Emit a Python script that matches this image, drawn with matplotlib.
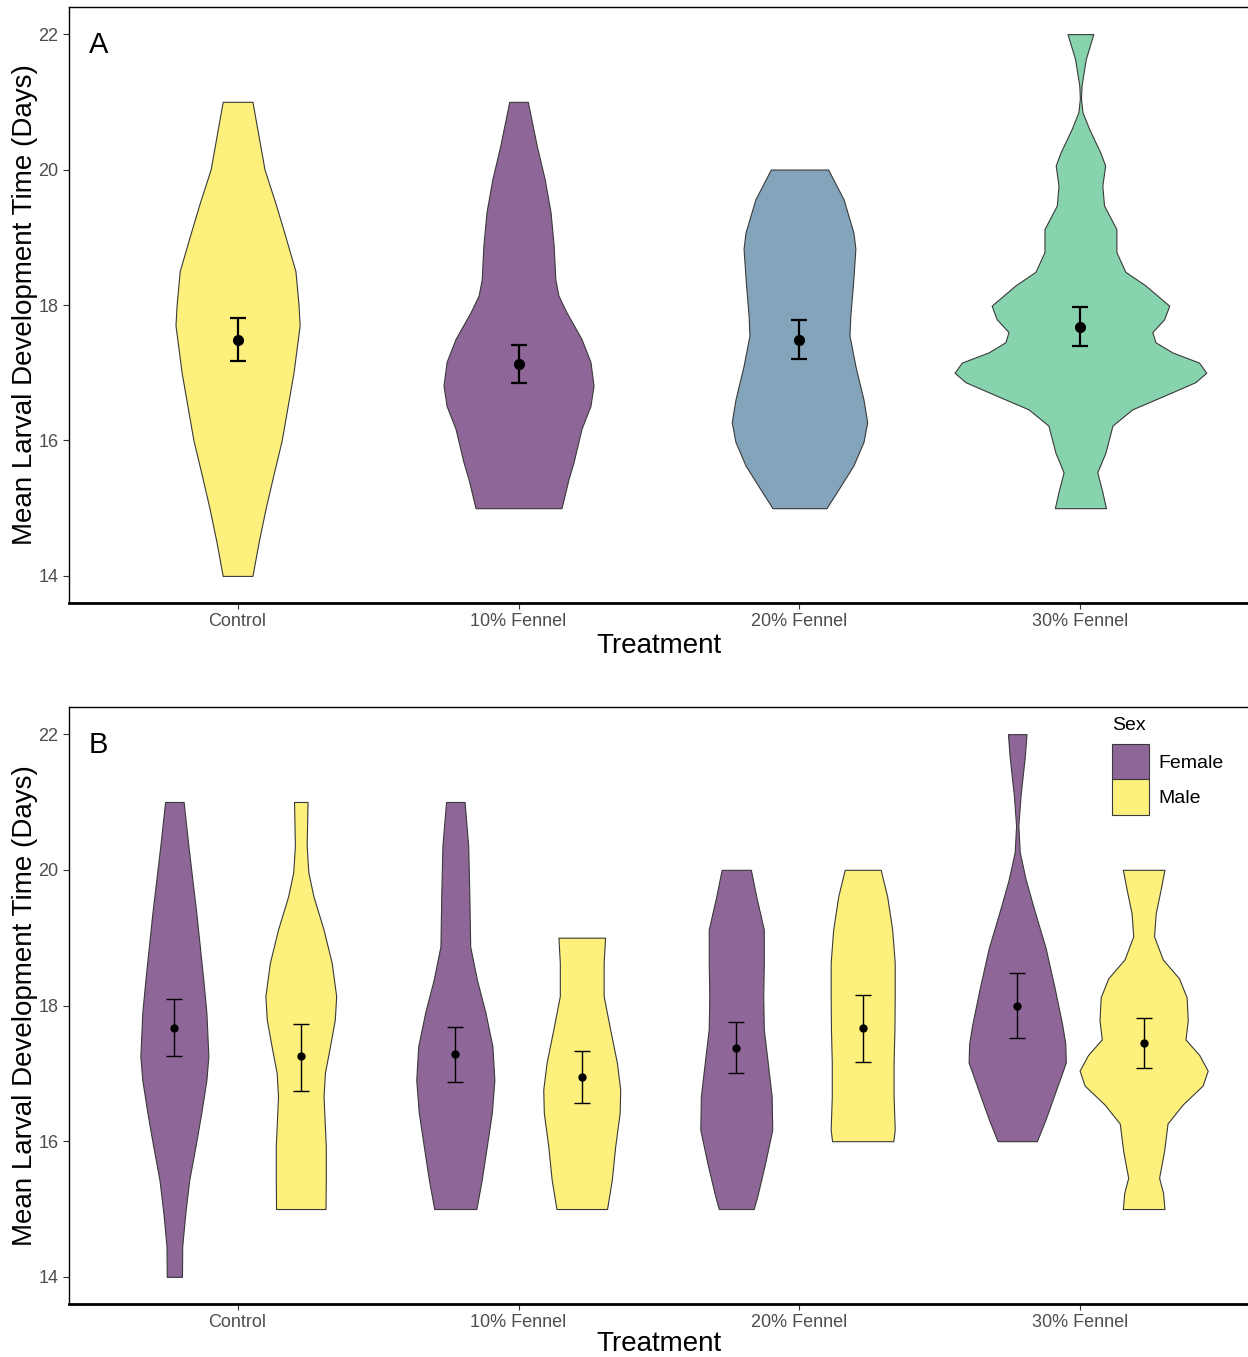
import numpy as np
import matplotlib.pyplot as plt
from matplotlib.colors import to_rgba
from matplotlib.patches import Patch

plt.rcParams['font.family'] = ['Liberation Sans', 'DejaVu Sans']

treatments = ['Control', '10% Fennel', '20% Fennel', '30% Fennel']
fills_a = ['#FDE725', '#440154', '#31688E', '#35B779']
sex_levels = ['Female', 'Male']
fills_b = ['#440154', '#FDE725']

# ---- panel A: violin outlines (y, half width in x units)
viol_a_y = [
    [14, 14.5, 15, 15.5, 16, 16.5, 17, 17.7, 18, 18.5, 19, 19.5, 20, 21],
    [15, 15.43, 15.68, 16.17, 16.51, 16.81, 17.16, 17.5, 17.89, 18.14, 18.38, 18.88, 19.37, 19.86, 20.35, 21],
    [15, 15.28, 15.63, 15.98, 16.27, 16.6, 17.1, 17.55, 17.84, 18.34, 18.83, 19.07, 19.56, 20],
    [15, 15.24, 15.53, 15.82, 16.22, 16.46, 16.66, 16.86, 17, 17.15, 17.3, 17.45, 17.6, 17.79, 17.99,
     18.29, 18.49, 18.78, 19.12, 19.47, 19.76, 20.06, 20.25, 20.6, 20.85, 21.05, 21.24, 21.63, 22],
]
viol_a_w = [
    [0.053, 0.075, 0.100, 0.128, 0.157, 0.178, 0.199, 0.221, 0.217, 0.206, 0.171, 0.135, 0.096, 0.053],
    [0.153, 0.178, 0.196, 0.224, 0.256, 0.267, 0.256, 0.224, 0.171, 0.142, 0.131, 0.125, 0.114, 0.093, 0.065, 0.033],
    [0.096, 0.139, 0.192, 0.228, 0.241, 0.228, 0.199, 0.178, 0.181, 0.191, 0.199, 0.192, 0.157, 0.102],
    [0.091, 0.078, 0.060, 0.089, 0.114, 0.185, 0.298, 0.409, 0.448, 0.422, 0.327, 0.267, 0.256, 0.298, 0.316,
     0.231, 0.160, 0.128, 0.128, 0.084, 0.078, 0.088, 0.071, 0.031, 0.007, 0.002, 0.004, 0.019, 0.046],
]
mean_a = [17.48, 17.13, 17.48, 17.68]
lo_a = [17.17, 16.85, 17.20, 17.40]
hi_a = [17.81, 17.41, 17.78, 17.97]

# ---- panel B: female / male violins per treatment
viol_f_y = [
    [14, 14.45, 14.94, 15.43, 15.92, 16.42, 16.9, 17.25, 17.9, 18.38, 19.37, 20.35, 21],
    [15, 15.43, 15.92, 16.42, 16.9, 17.4, 17.9, 18.38, 18.87, 19.61, 20.35, 21],
    [15, 15.19, 15.68, 16.17, 16.66, 17.16, 17.65, 18.14, 18.63, 19.12, 19.61, 20],
    [16, 16.31, 16.6, 16.88, 17.16, 17.44, 17.72, 18.28, 18.85, 19.42, 19.86, 20.26, 20.65, 21.1, 21.67, 22],
]
viol_f_w = [
    [0.027, 0.028, 0.039, 0.053, 0.075, 0.096, 0.114, 0.121, 0.114, 0.103, 0.078, 0.050, 0.033],
    [0.075, 0.094, 0.112, 0.130, 0.139, 0.132, 0.107, 0.077, 0.053, 0.050, 0.046, 0.033],
    [0.062, 0.075, 0.103, 0.128, 0.126, 0.112, 0.098, 0.096, 0.098, 0.098, 0.071, 0.052],
    [0.070, 0.100, 0.125, 0.149, 0.173, 0.171, 0.160, 0.132, 0.101, 0.060, 0.030, 0.009, 0.004, 0.012, 0.027, 0.033],
]
viol_m_y = [
    [15, 15.43, 15.92, 16.66, 17.01, 17.4, 17.79, 18.14, 18.63, 19.12, 19.61, 19.96, 20.35, 21],
    [15, 15.43, 15.92, 16.42, 16.76, 17.16, 17.65, 18.14, 18.63, 19],
    [16, 16.17, 16.66, 17.16, 17.65, 18.14, 18.63, 19.12, 19.61, 20],
    [15, 15.24, 15.46, 15.86, 16.26, 16.54, 16.82, 17.04, 17.27, 17.5, 17.78, 18.12, 18.4, 18.68, 19.02,
     19.36, 19.7, 20],
]
viol_m_w = [
    [0.088, 0.089, 0.089, 0.081, 0.086, 0.104, 0.121, 0.126, 0.110, 0.081, 0.045, 0.027, 0.021, 0.024],
    [0.090, 0.107, 0.119, 0.135, 0.137, 0.125, 0.101, 0.078, 0.078, 0.083],
    [0.109, 0.114, 0.110, 0.110, 0.113, 0.114, 0.114, 0.105, 0.087, 0.064],
    [0.074, 0.069, 0.055, 0.073, 0.085, 0.139, 0.210, 0.228, 0.198, 0.149, 0.157, 0.153, 0.126, 0.068, 0.037,
     0.043, 0.060, 0.074],
]
mean_f = [17.67, 17.28, 17.38, 18.00]
lo_f = [17.25, 16.87, 17.01, 17.52]
hi_f = [18.09, 17.69, 17.75, 18.48]
mean_m = [17.25, 16.94, 17.67, 17.45]
lo_m = [16.74, 16.56, 17.16, 17.08]
hi_m = [17.72, 17.33, 18.16, 17.82]

ALPHA = 0.6
EDGE = '#3a3a3a'
TICK_GREY = '#4D4D4D'


def violin(ax, pos, ys, ws, color):
    ys = np.asarray(ys)
    ws = np.asarray(ws)
    ax.fill_betweenx(ys, pos - ws, pos + ws, facecolor=to_rgba(color, ALPHA),
                     edgecolor=EDGE, linewidth=0.8, zorder=2)


def style_axes(ax, letter, xpad):
    ax.set_xlim(0.4, 4.6)
    ax.set_ylim(13.6, 22.4)
    ax.set_xticks(range(1, 5))
    ax.set_xticklabels(treatments)
    ax.set_yticks([14, 16, 18, 20, 22])
    ax.tick_params(labelsize=13, labelcolor=TICK_GREY, color='#333333', length=4, width=0.8)
    ax.set_xlabel('Treatment', fontsize=20, labelpad=xpad)
    ax.set_ylabel('Mean Larval Development Time (Days)', fontsize=20, labelpad=0)
    for side in ['top', 'left', 'right']:
        ax.spines[side].set_linewidth(1.0)
    ax.spines['bottom'].set_linewidth(2.0)
    ax.text(0.017, 0.923, letter, transform=ax.transAxes, fontsize=21,
            ha='left', va='baseline')


fig = plt.figure(figsize=(12.48, 13.57), dpi=100)
W, H = 1248, 1357
ax1 = fig.add_axes([69 / W, 1 - 603 / H, 1180 / W, 596 / H])
ax2 = fig.add_axes([69 / W, 1 - 1304 / H, 1180 / W, 597 / H])

# panel A
x = np.arange(1, 5)
for i in range(4):
    violin(ax1, x[i], viol_a_y[i], viol_a_w[i], fills_a[i])
ax1.errorbar(x, mean_a, yerr=[np.subtract(mean_a, lo_a), np.subtract(hi_a, mean_a)],
             fmt='o', color='black', ms=7, elinewidth=1.6, capsize=5.8, capthick=1.6, zorder=3)
style_axes(ax1, 'A', 2)

# panel B
dodge = 0.225
for i in range(4):
    violin(ax2, x[i] - dodge, viol_f_y[i], viol_f_w[i], fills_b[0])
    violin(ax2, x[i] + dodge, viol_m_y[i], viol_m_w[i], fills_b[1])
ax2.errorbar(x - dodge, mean_f, yerr=[np.subtract(mean_f, lo_f), np.subtract(hi_f, mean_f)],
             fmt='o', color='black', ms=5, elinewidth=1.0, capsize=5.6, capthick=1.0, zorder=3)
ax2.errorbar(x + dodge, mean_m, yerr=[np.subtract(mean_m, lo_m), np.subtract(hi_m, mean_m)],
             fmt='o', color='black', ms=5, elinewidth=1.0, capsize=5.6, capthick=1.0, zorder=3)
style_axes(ax2, 'B', 0)

handles = [Patch(facecolor=to_rgba(c, ALPHA), edgecolor=EDGE, linewidth=0.8) for c in fills_b]
ax2.legend(handles, sex_levels, loc='upper left',
           bbox_to_anchor=(1112 / W, 1 - 744 / H), bbox_transform=fig.transFigure,
           frameon=False, fontsize=14, handlelength=1.9,
           handleheight=2.4, labelspacing=0.02, handletextpad=0.5,
           borderpad=0, borderaxespad=0)
fig.text(1112 / W, 1 - 726 / H, 'Sex', fontsize=14, ha='left', va='center')

fig.savefig('out.png', dpi=100)
